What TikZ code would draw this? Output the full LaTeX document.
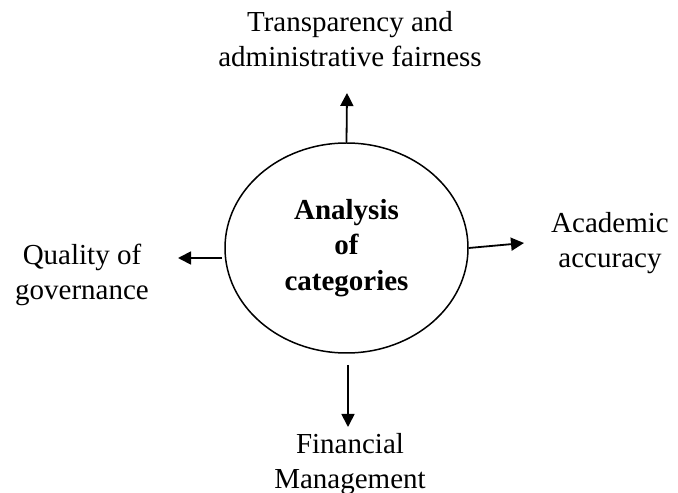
\documentclass[tikz,border=0pt]{standalone}
\usepackage{fontspec}
\setmainfont{Liberation Serif}
\usetikzlibrary{shapes.geometric,arrows.meta}
\begin{document}
\begin{tikzpicture}[x=1pt,y=1pt,
  lbl/.style={align=center,font=\fontsize{29}{35}\selectfont,inner sep=0pt,anchor=base},
  arr/.style={line width=1.8pt,-{Triangle[length=13pt,width=13pt]}}]
\useasboundingbox (0,0) rectangle (678,493);
\node[draw,ellipse,line width=1.5pt,minimum width=243pt,minimum height=210pt,inner sep=0pt,
  align=center,font=\fontsize{29}{35.5}\selectfont\bfseries] (c) at (346.5,245) {Analysis\\of\\categories};
\node[lbl] (t) at (350,426) {Transparency and\\administrative fairness};
\node[lbl] (r) at (610,225) {Academic\\accuracy};
\node[lbl] (l) at (82,193) {Quality of\\governance};
\node[lbl] (b) at (350,5) {Financial\\Management};
\coordinate (te) at (347,400);
\coordinate (re) at (524,250);
\coordinate (le) at (178,235);
\coordinate (ls) at (222,235);
\coordinate (bs) at (348,128);
\coordinate (be) at (348,66);
\draw[arr] (c.north) -- (te);
\draw[arr] (c.east) -- (re);
\draw[arr] (ls) -- (le);
\draw[arr] (bs) -- (be);
\end{tikzpicture}
\end{document}
